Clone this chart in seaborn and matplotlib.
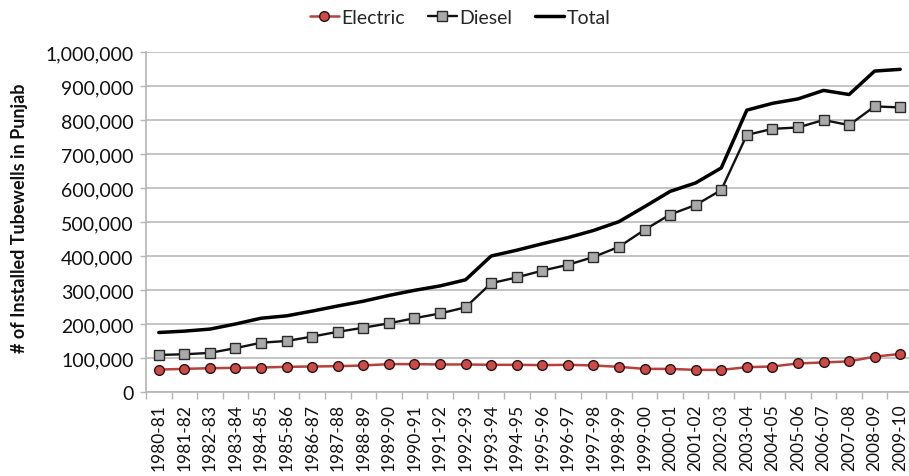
import pandas as pd
import seaborn as sns
import matplotlib.pyplot as plt
from matplotlib.ticker import FuncFormatter, FixedLocator

# Values (number of tubewells)
years = ['1980-81', '1981-82', '1982-83', '1983-84', '1984-85', '1985-86',
         '1986-87', '1987-88', '1988-89', '1989-90', '1990-91', '1991-92',
         '1992-93', '1993-94', '1994-95', '1995-96', '1996-97', '1997-98',
         '1998-99', '1999-00', '2000-01', '2001-02', '2002-03', '2003-04',
         '2004-05', '2005-06', '2006-07', '2007-08', '2008-09', '2009-10']
electric = [66000, 68000, 70000, 71000, 72000, 74000, 75000, 76000, 78000, 82000,
            82000, 81000, 81000, 80000, 80000, 79000, 80000, 78000, 74000, 68000,
            68000, 65000, 65000, 73000, 75000, 84000, 87000, 90000, 104000, 112000]
diesel = [109000, 111000, 115000, 129000, 145000, 150000, 163000, 177000, 189000, 202000,
          217000, 231000, 249000, 320000, 337000, 357000, 374000, 397000, 427000, 477000,
          522000, 550000, 594000, 756000, 774000, 778000, 800000, 785000, 840000, 837000]
total = [175000, 179000, 185000, 200000, 217000, 224000, 238000, 253000, 267000, 284000,
         299000, 312000, 330000, 400000, 417000, 436000, 454000, 475000, 501000, 545000,
         590000, 615000, 659000, 829000, 849000, 862000, 887000, 875000, 944000, 949000]

df = pd.DataFrame({'year': years, 'Electric': electric, 'Diesel': diesel, 'Total': total})

sns.set_theme(style='white')
plt.rcParams['font.family'] = ['Lato', 'DejaVu Sans']

fig = plt.figure(figsize=(9.09, 4.77), dpi=100)
ax = fig.add_axes([146 / 909, 84 / 477, 767 / 909, 340 / 477])

grid_col = '#b4b4b4'

sns.lineplot(data=df, x='year', y='Electric', ax=ax, sort=False, label='Electric',
             color='#b8403d', linewidth=1.8, marker='o', markersize=7,
             markerfacecolor='#cc4a47', markeredgecolor='#2a1515', markeredgewidth=1.0, zorder=4)
sns.lineplot(data=df, x='year', y='Diesel', ax=ax, sort=False, label='Diesel',
             color='#111111', linewidth=1.7, marker='s', markersize=6.5,
             markerfacecolor='#a9a9a9', markeredgecolor='#2a2a2a', markeredgewidth=1.0, zorder=4)
sns.lineplot(data=df, x='year', y='Total', ax=ax, sort=False, label='Total',
             color='#000000', linewidth=2.5, zorder=3)

ax.set_xlim(-0.5, len(years) - 0.5)
ax.set_ylim(0, 1000000)
ax.set_yticks(range(0, 1000001, 100000))
ax.yaxis.set_major_formatter(FuncFormatter(lambda v, p: f'{int(v):,}'))
ax.yaxis.grid(True, color=grid_col, linewidth=1.1)
ax.set_axisbelow(True)

ax.set_xticks(range(len(years)))
ax.set_xticklabels(years, rotation=90, fontsize=12.5, color='#111111')
ax.xaxis.set_minor_locator(FixedLocator([i - 0.5 for i in range(len(years) + 1)]))
ax.tick_params(axis='x', which='major', length=0, pad=8)
ax.tick_params(axis='x', which='minor', length=5, width=1, color=grid_col, bottom=True)
ax.tick_params(axis='y', which='major', length=4, width=1, color=grid_col, left=True,
               labelsize=14, labelcolor='#111111', pad=5)

for side in ['top', 'right']:
    ax.spines[side].set_visible(False)
for side in ['left', 'bottom']:
    ax.spines[side].set_color(grid_col)
    ax.spines[side].set_linewidth(1.2)

ax.set_xlabel('')
ax.set_ylabel('')
fig.text(20 / 909, (477 - 218) / 477, '# of Installed Tubewells in Punjab', rotation=90,
         ha='center', va='center', fontsize=13, fontweight='bold', color='#111111')

ax.legend(loc='center', bbox_to_anchor=(460 / 909, 1 - 18 / 477), bbox_transform=fig.transFigure,
          ncol=3, frameon=False, fontsize=14, handlelength=1.5, handletextpad=0.1,
          columnspacing=1.2, borderaxespad=0)

plt.savefig('out.png', dpi=100)
